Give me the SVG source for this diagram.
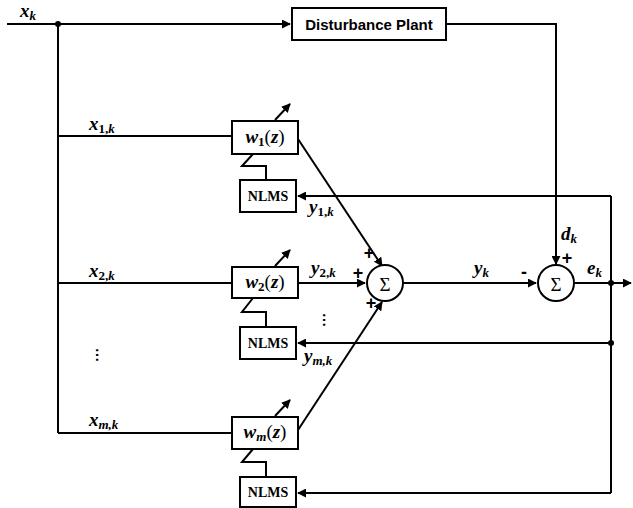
<svg xmlns="http://www.w3.org/2000/svg" width="633" height="508" viewBox="0 0 633 508">
<style>
.ln{fill:none;stroke:#000;stroke-width:2}
.bx{fill:#fff;stroke:#000;stroke-width:2}
.m{font-family:"Liberation Serif",serif;font-weight:bold;font-style:italic;font-size:19px}
.s{font-family:"Liberation Serif",serif;font-weight:bold;font-size:13px}
.si{font-family:"Liberation Serif",serif;font-weight:bold;font-style:italic;font-size:13px}
.r{font-family:"Liberation Serif",serif;font-size:19px}
.nl{font-family:"Liberation Serif",serif;font-weight:bold;font-size:14px}
.pl{font-family:"Liberation Sans",sans-serif;font-weight:bold;font-size:15px}
.sg{font-family:"Liberation Sans",sans-serif;font-size:18px;font-weight:bold}
</style>
<defs>
<marker id="a" viewBox="0 0 10 10" refX="9" refY="5" markerWidth="4.5" markerHeight="4.5" orient="auto" markerUnits="strokeWidth"><path d="M0,0L10,5L0,10z" fill="#000"/></marker>
</defs>
<g id="connectors">
<path class="ln" d="M7,24H290" marker-end="url(#a)"/>
<path class="ln" d="M58,24V433"/>
<path class="ln" d="M58,136H232"/>
<path class="ln" d="M58,283H232"/>
<path class="ln" d="M58,433H232"/>
<path class="ln" d="M446,24H556V264" marker-end="url(#a)"/>
<path class="ln" d="M298,139L382,266" marker-end="url(#a)"/>
<path class="ln" d="M298,283H365" marker-end="url(#a)"/>
<path class="ln" d="M298,430L382,302" marker-end="url(#a)"/>
<path class="ln" d="M403,283H536" marker-end="url(#a)"/>
<path class="ln" d="M575,283H631" marker-end="url(#a)"/>
<path class="ln" d="M611,196V493"/>
<path class="ln" d="M611,196H298" marker-end="url(#a)"/>
<path class="ln" d="M611,343H298" marker-end="url(#a)"/>
<path class="ln" d="M611,493H298" marker-end="url(#a)"/>
<path class="ln" d="M253,154L242,166H266V180"/>
<path class="ln" d="M253,298L242,312H266V327"/>
<path class="ln" d="M253,449L242,462H266V477"/>
<path class="ln" d="M275,120L290,104" marker-end="url(#a)"/>
<path class="ln" d="M275,266L290,250" marker-end="url(#a)"/>
<path class="ln" d="M275,416L290,400" marker-end="url(#a)"/>
<circle cx="58" cy="24" r="3"/>
<circle cx="611" cy="283" r="3"/>
<circle cx="611" cy="343" r="3"/>
</g>
<g id="plant"><rect class="bx" x="292" y="8" width="154" height="32"/><text class="pl" x="369" y="29.5" text-anchor="middle" font-size="15.5">Disturbance Plant</text></g>
<g id="w1"><rect class="bx" x="232" y="121" width="66" height="33"/><text x="265" y="143" text-anchor="middle"><tspan class="m">w</tspan><tspan class="s" dy="3">1</tspan><tspan class="r" dy="-3">(</tspan><tspan class="m">z</tspan><tspan class="r">)</tspan></text></g>
<g id="nlms1"><rect class="bx" x="240" y="180" width="56" height="32"/><text class="nl" x="268" y="201" text-anchor="middle">NLMS</text></g>
<g id="w2"><rect class="bx" x="232" y="267" width="66" height="31"/><text x="265" y="288" text-anchor="middle"><tspan class="m">w</tspan><tspan class="s" dy="3">2</tspan><tspan class="r" dy="-3">(</tspan><tspan class="m">z</tspan><tspan class="r">)</tspan></text></g>
<g id="nlms2"><rect class="bx" x="240" y="327" width="56" height="32"/><text class="nl" x="268" y="348" text-anchor="middle">NLMS</text></g>
<g id="wm"><rect class="bx" x="232" y="417" width="66" height="32"/><text x="265" y="438" text-anchor="middle"><tspan class="m">w</tspan><tspan class="si" dy="3">m</tspan><tspan class="r" dy="-3">(</tspan><tspan class="m">z</tspan><tspan class="r">)</tspan></text></g>
<g id="nlmsm"><rect class="bx" x="240" y="477" width="56" height="30"/><text class="nl" x="268" y="497" text-anchor="middle">NLMS</text></g>
<g id="sum1"><circle class="bx" cx="385" cy="283" r="18"/><text class="r" x="385" y="291" text-anchor="middle" font-size="22">Σ</text></g>
<g id="sum2"><circle class="bx" cx="556" cy="283" r="18"/><text class="r" x="556" y="291" text-anchor="middle" font-size="22">Σ</text></g>
<g id="labels">
<text x="20" y="17"><tspan class="m">x</tspan><tspan class="si" dy="3">k</tspan></text>
<text x="89" y="130"><tspan class="m">x</tspan><tspan class="s" dy="3">1,</tspan><tspan class="si">k</tspan></text>
<text x="89" y="277"><tspan class="m">x</tspan><tspan class="s" dy="3">2,</tspan><tspan class="si">k</tspan></text>
<text x="89" y="426"><tspan class="m">x</tspan><tspan class="si" dy="3">m,k</tspan></text>
<text x="309" y="213"><tspan class="m">y</tspan><tspan class="s" dy="3">1,</tspan><tspan class="si">k</tspan></text>
<text x="311" y="274"><tspan class="m">y</tspan><tspan class="s" dy="3">2,</tspan><tspan class="si">k</tspan></text>
<text x="304" y="362"><tspan class="m">y</tspan><tspan class="si" dy="3">m,k</tspan></text>
<text x="474" y="274"><tspan class="m">y</tspan><tspan class="si" dy="3">k</tspan></text>
<text x="561" y="240"><tspan class="m">d</tspan><tspan class="si" dy="3">k</tspan></text>
<text x="587" y="274"><tspan class="m">e</tspan><tspan class="si" dy="3">k</tspan></text>
<text class="sg" x="369" y="259" text-anchor="middle">+</text>
<text class="sg" x="358" y="279" text-anchor="middle">+</text>
<text class="sg" x="371" y="309" text-anchor="middle">+</text>
<text class="sg" x="567" y="264" text-anchor="middle">+</text>
<text class="sg" x="524" y="278" text-anchor="middle">-</text>
<text class="pl" x="327" y="324" text-anchor="middle" font-size="10" transform="rotate(90 327 320)">…</text>
<text class="pl" x="100" y="359" text-anchor="middle" font-size="10" transform="rotate(90 100 355)">…</text>
</g>
</svg>
